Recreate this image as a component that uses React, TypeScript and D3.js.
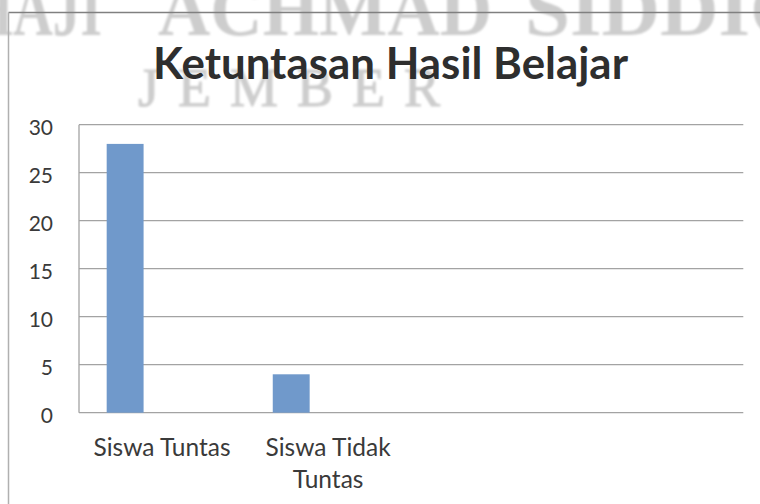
import React from "react";
import * as d3 from "d3";

const chartTitle = "Ketuntasan Hasil Belajar";
const categories = ["Siswa Tuntas", "Siswa Tidak Tuntas", "", ""];
const categoryLines = [["Siswa Tuntas"], ["Siswa Tidak", "Tuntas"], [], []];
const seriesKeys = ["Series1", "Series2", "Series3"];
const series1 = [28, 4, null, null];
const yTicks = [0, 5, 10, 15, 20, 25, 30];
const watermarkWords = ["HAJI", "ACHMAD", "SIDDIQ"];
const watermarkBottom = "JEMBER";

const W = 760;
const H = 504;
const plot = { left: 79, right: 743.3, top: 124.7, bottom: 412.7 };
const wmLayout = [
  { x: -30, len: 132 },
  { x: 158, len: 334 },
  { x: 525, len: 288 },
];

export default function App() {
  const x = d3
    .scaleBand<number>()
    .domain(categories.map((_, i) => i))
    .range([plot.left, plot.right])
    .padding(0);
  const inner = d3
    .scaleBand<string>()
    .domain(seriesKeys)
    .range([0, x.bandwidth()])
    .paddingInner(0)
    .paddingOuter(0.75);
  const y = d3.scaleLinear().domain([0, 30]).range([plot.bottom, plot.top]);

  return (
    <svg
      width={W}
      height={H}
      style={{ position: "fixed", left: 0, top: 0, background: "#fff" }}
    >
      <defs>
        <filter id="blur" x="-10%" y="-50%" width="120%" height="200%">
          <feGaussianBlur stdDeviation="1.3" />
        </filter>
      </defs>
      <rect width={W} height={H} fill="#fff" />
      {/* watermark */}
      <g filter="url(#blur)" fill="#cdcdcd">
        {watermarkWords.map((w, i) => (
          <text
            key={w}
            x={wmLayout[i].x}
            y={35}
            fontFamily="'Liberation Serif', 'DejaVu Serif', serif"
            fontWeight="bold"
            fontSize={76}
            textLength={wmLayout[i].len}
            lengthAdjust="spacingAndGlyphs"
          >
            {w}
          </text>
        ))}
        <text
          x={138}
          y={106}
          fontFamily="'Liberation Serif', 'DejaVu Serif', serif"
          fontSize={54}
          letterSpacing={19}
          stroke="#cdcdcd"
          strokeWidth={1}
        >
          {watermarkBottom}
        </text>
      </g>
      {/* chart border */}
      <line x1={8.5} x2={W} y1={12.5} y2={12.5} stroke="#808080" strokeWidth={1.3} />
      <line x1={8.5} x2={8.5} y1={12.5} y2={H} stroke="#b0b0b0" strokeWidth={1.5} />
      {/* title */}
      <text
        x={390.5}
        y={79}
        textAnchor="middle"
        fontFamily="Lato, 'Open Sans', sans-serif"
        fontWeight="bold"
        fontSize={43}
        fill="#2e2e2e"
        textLength={475}
        lengthAdjust="spacingAndGlyphs"
      >
        {chartTitle}
      </text>
      {/* gridlines */}
      {yTicks.map((t) => (
        <line
          key={"g" + t}
          x1={plot.left}
          x2={plot.right}
          y1={y(t)}
          y2={y(t)}
          stroke="#a3a3a3"
          strokeWidth={1.3}
        />
      ))}
      <line
        x1={plot.left}
        x2={plot.left}
        y1={plot.top}
        y2={plot.bottom}
        stroke="#a3a3a3"
        strokeWidth={1.3}
      />
      {/* tick labels */}
      {yTicks.map((t) => (
        <text
          key={"t" + t}
          x={53}
          y={y(t) + 1.5}
          textAnchor="end"
          dominantBaseline="central"
          fontFamily="Lato, 'Open Sans', sans-serif"
          fontSize={21}
          fill="#3a3a3a"
        >
          {t}
        </text>
      ))}
      {/* bars */}
      {series1.map((v, i) =>
        v == null ? null : (
          <rect
            key={"b" + i}
            x={(x(i) as number) + (inner("Series1") as number)}
            y={y(v)}
            width={inner.bandwidth()}
            height={y(0) - y(v)}
            fill="#7099cb"
          />
        )
      )}
      {/* category labels */}
      {categoryLines.map((lines, i) => (
        <text
          key={"c" + i}
          textAnchor="middle"
          fontFamily="Lato, 'Open Sans', sans-serif"
          fontSize={24.5}
          fill="#3a3a3a"
        >
          {lines.map((ln, j) => (
            <tspan key={j} x={(x(i) as number) + x.bandwidth() / 2} y={456 + j * 32}>
              {ln}
            </tspan>
          ))}
        </text>
      ))}
    </svg>
  );
}
